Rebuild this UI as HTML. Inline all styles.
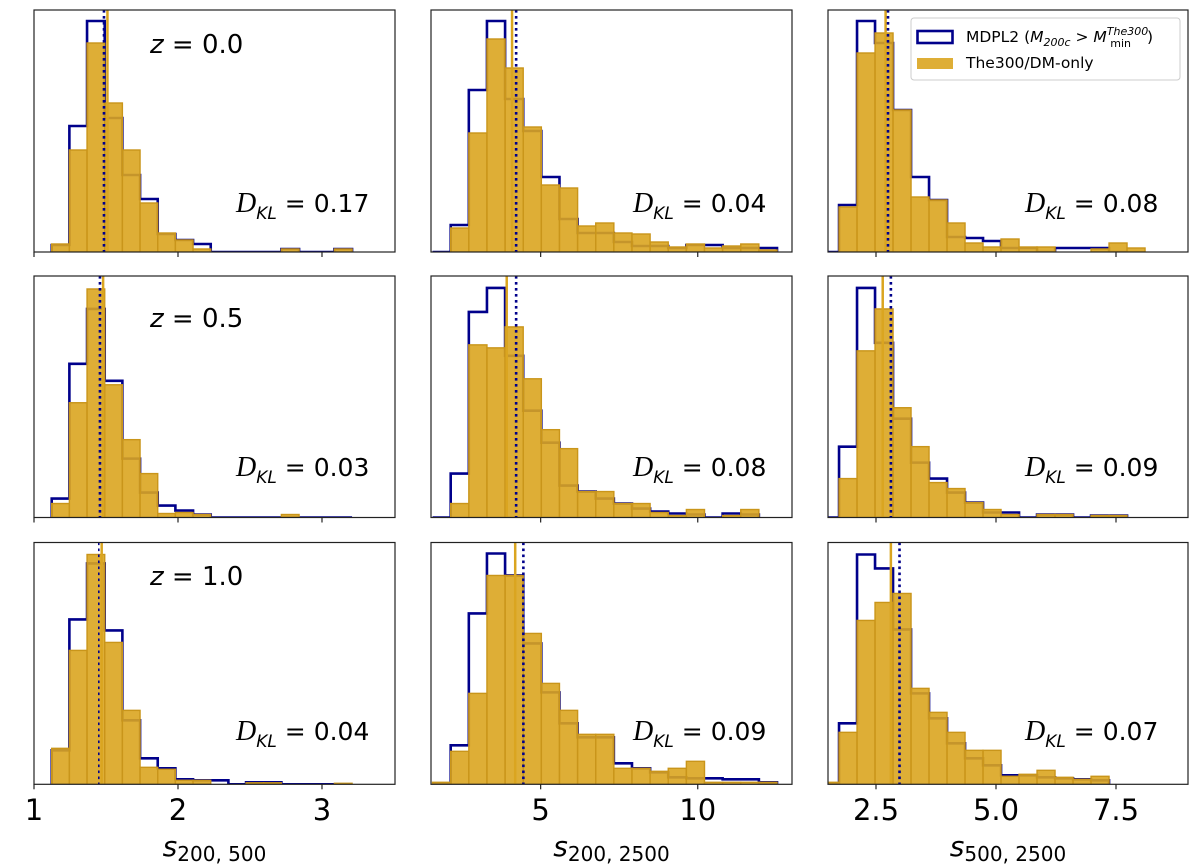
<!DOCTYPE html>
<html><head><meta charset="utf-8"><style>
body{margin:0;background:#fff}
svg{display:block;font-family:"DejaVu Sans","Liberation Sans",sans-serif}
</style></head><body>
<svg id="fig" width="1200" height="868" viewBox="0 0 1200 868"></svg>
<script>
// Column x-ranges, bin starts and widths
const colXMin = [1.0, 1.51, 1.5];
const colXMax = [3.507, 13.0, 9.0];
const colBinStart = [1.123, 1.56, 1.355];
const colBinWidth = [0.1227, 0.577, 0.375];
const colTicks = [[1,2,3],[5,10],[2.5,5.0,7.5]];
const colTickLabels = [["1","2","3"],["5","10"],["2.5","5.0","7.5"]];
const rowLabels = ["z = 0.0","z = 0.5","z = 1.0"];
const dklValues = [["0.17","0.04","0.08"],["0.03","0.08","0.09"],["0.04","0.09","0.07"]];
// counts (arbitrary units, y-range 0..242)
const blueCounts = [
 [[7,126,231,134,77,53,18,12,8,0,0,0,0,3,0,0,3],
  [0,27,162,231,153,121,75,33,19,19,10,6,6,4,7,7,4,4,4],
  [0,47,231,209,142,75,52,15,14,11,4,4,0,4,4,4,0]],
 [[19,154,209,137,59,25,12,7,3,0,0,0,0,0,0,0,0],
  [0,44,206,230,162,107,75,32,26,19,14,9,6,4,3,0,4,3],
  [0,71,230,175,99,55,39,25,15,5,5,0,3,3,0,2,2]],
 [[34,165,221,154,64,26,16,5,4,4,0,2,2,0,0,0,0],
  [0,39,171,231,209,141,92,61,47,47,21,16,12,7,6,6,5,5,2],
  [0,61,230,216,155,91,66,41,26,19,9,9,7,6,5,4]]
];
const goldCounts = [
 [[8,102,209,149,102,49,19,12,3,0,0,0,0,3,0,0,3],
  [0,24,119,213,184,125,67,64,26,29,19,18,10,5,8,4,6,8,2],
  [0,45,199,219,142,55,52,29,9,5,13,5,5,0,0,3,9,4]],
 [[14,115,229,133,78,44,4,5,3,0,0,0,0,3,0,0,0],
  [0,14,173,170,191,139,88,69,26,26,14,14,5,2,8,0,2,8],
  [0,39,167,209,110,71,35,29,15,8,3,0,3,3,0,2,2]],
 [[36,134,230,142,74,17,15,4,4,0,0,1.5,1.5,0,0,0,1],
  [2,33,91,209,209,151,101,74,50,50,16,16,13,16,23,2,2,2,2],
  [2,52,164,182,191,96,72,52,34,34,8,10,14,7,5,8]]
];
const goldMean = [[1.51,4.09,2.70],[1.48,3.92,2.64],[1.47,4.19,2.81]];
const blueMean = [[1.486,4.22,2.75],[1.458,4.22,2.81],[1.45,4.45,2.99]];
const xTitles = ["200, 500","200, 2500","500, 2500"];

const NS="http://www.w3.org/2000/svg";
const svg=document.getElementById('fig');
const colL=[34,431,828], colR=[395,792,1188];
const rowT=[10,276,542.5], rowB=[252,517.5,784.3];
const YMAX=242;
function mk(tag,attrs,parent){const e=document.createElementNS(NS,tag);for(const k in attrs)e.setAttribute(k,attrs[k]);(parent||svg).appendChild(e);return e;}
const zBase=[53,327,585], dBase=[212,476,740];
const dX=[236,633,1025];

for(let r=0;r<3;r++){for(let c=0;c<3;c++){
  const L=colL[c],R=colR[c],T=rowT[r],B=rowB[r];
  const xs=v=>L+(v-colXMin[c])/(colXMax[c]-colXMin[c])*(R-L);
  const ys=v=>B-v/YMAX*(B-T);
  const g=mk('g',{});
  
  
  const cid='clip'+r+c;
  const cp=mk('clipPath',{id:cid},g);mk('rect',{x:L,y:T,width:R-L,height:B-T},cp);
  const inner=mk('g',{'clip-path':'url(#'+cid+')'},g);
  const bc=blueCounts[r][c];let d='';
  const x0=colBinStart[c], w=colBinWidth[c];
  for(let i=0;i<bc.length;i++){
    const a=xs(x0+i*w), b=xs(x0+(i+1)*w);
    if(i===0) d+='M'+a+','+ys(0);
    d+=' L'+a+','+ys(bc[i])+' L'+b+','+ys(bc[i]);
  }
  d+=' L'+xs(x0+bc.length*w)+','+ys(0);
  const step=mk('path',{d:d,fill:'none',stroke:'#00008b','stroke-width':2.6,'stroke-linejoin':'miter'},inner);
  
  
  const gc=goldCounts[r][c];
  for(let i=0;i<gc.length;i++){ if(gc[i]<=0)continue;
    const a=xs(x0+i*w), b=xs(x0+(i+1)*w);
    const bar=mk('rect',{x:a,y:ys(gc[i]),width:b-a,height:ys(0)-ys(gc[i]),fill:'#DAA520','fill-opacity':0.9,stroke:'#c9951a','stroke-width':1.4},inner);
    
    
  }
  const gl=mk('line',{x1:xs(goldMean[r][c]),x2:xs(goldMean[r][c]),y1:T,y2:B,stroke:'#DAA520','stroke-width':2.5},inner);
  
  
  const bl=mk('line',{x1:xs(blueMean[r][c]),x2:xs(blueMean[r][c]),y1:T,y2:B,stroke:'#00008b','stroke-width':(c===0&&r===2)?1.6:2.6,'stroke-dasharray':'2.6,3.4'},inner);
  
  
  const fr=mk('rect',{x:L,y:T,width:R-L,height:B-T,fill:'none',stroke:'#222','stroke-width':1.2},g);
  
  
  colTicks[c].forEach((t,k)=>{
    const tk=mk('line',{x1:xs(t),x2:xs(t),y1:B,y2:B+5,stroke:'#222','stroke-width':1.2},g);
    
    
    if(r===2){
      const tl=mk('text',{x:xs(t),y:820,'font-size':29,'text-anchor':'middle',fill:'#000'},g);
      tl.textContent=colTickLabels[c][k];
      
      
    }
  });
  const dt=mk('text',{x:dX[c],y:dBase[r],'font-size':25,fill:'#000'},g);
  
  
  const s1=mk('tspan',{'font-style':'italic','font-family':'"Liberation Serif",serif','font-size':28},dt);s1.textContent='D';
  const s2=mk('tspan',{'font-style':'italic','font-size':17,dy:7},dt);s2.textContent='KL';
  const s3=mk('tspan',{dy:-7},dt);s3.textContent=' = '+dklValues[r][c];
  if(c===0){
    const zt=mk('text',{x:150,y:zBase[r],'font-size':26,fill:'#000'},g);
    
    
    const zi=mk('tspan',{'font-style':'italic'},zt);zi.textContent='z';
    const zr=mk('tspan',{},zt);zr.textContent=rowLabels[r].slice(1);
  }
}}
for(let c=0;c<3;c++){
  const cx=(colL[c]+colR[c])/2;
  const t=mk('text',{x:cx,y:856,'font-size':28,'text-anchor':'middle',fill:'#000'});
  
  
  const a=mk('tspan',{'font-style':'italic'},t);a.textContent='s';
  const b=mk('tspan',{'font-size':20,dy:5},t);b.textContent=xTitles[c];
}
const lg=mk('g',{});


mk('rect',{x:911,y:18,width:269,height:62,rx:3,fill:'#fff','fill-opacity':0.85,stroke:'#ccc','stroke-width':1},lg);
const le1=mk('rect',{x:917.5,y:31,width:35,height:12,fill:'none',stroke:'#00008b','stroke-width':2.6},lg);


const t1=mk('text',{x:966,y:42,'font-size':15.5,fill:'#000'},lg);
t1.innerHTML='MDPL2 (<tspan font-style="italic">M</tspan><tspan font-size="11" dy="4" font-style="italic">200c</tspan><tspan dy="-4"> &gt; </tspan><tspan font-style="italic">M</tspan><tspan font-size="11" dy="-7" font-style="italic">The300</tspan><tspan font-size="11" dx="-38" dy="12">min</tspan><tspan dy="-5" dx="16">)</tspan>';
const le2=mk('rect',{x:917,y:58,width:36,height:11,fill:'#DAA520','fill-opacity':0.9},lg);


const t2=mk('text',{x:966,y:68,'font-size':15.5,fill:'#000'},lg);t2.textContent='The300/DM-only';
</script>
</body></html>
